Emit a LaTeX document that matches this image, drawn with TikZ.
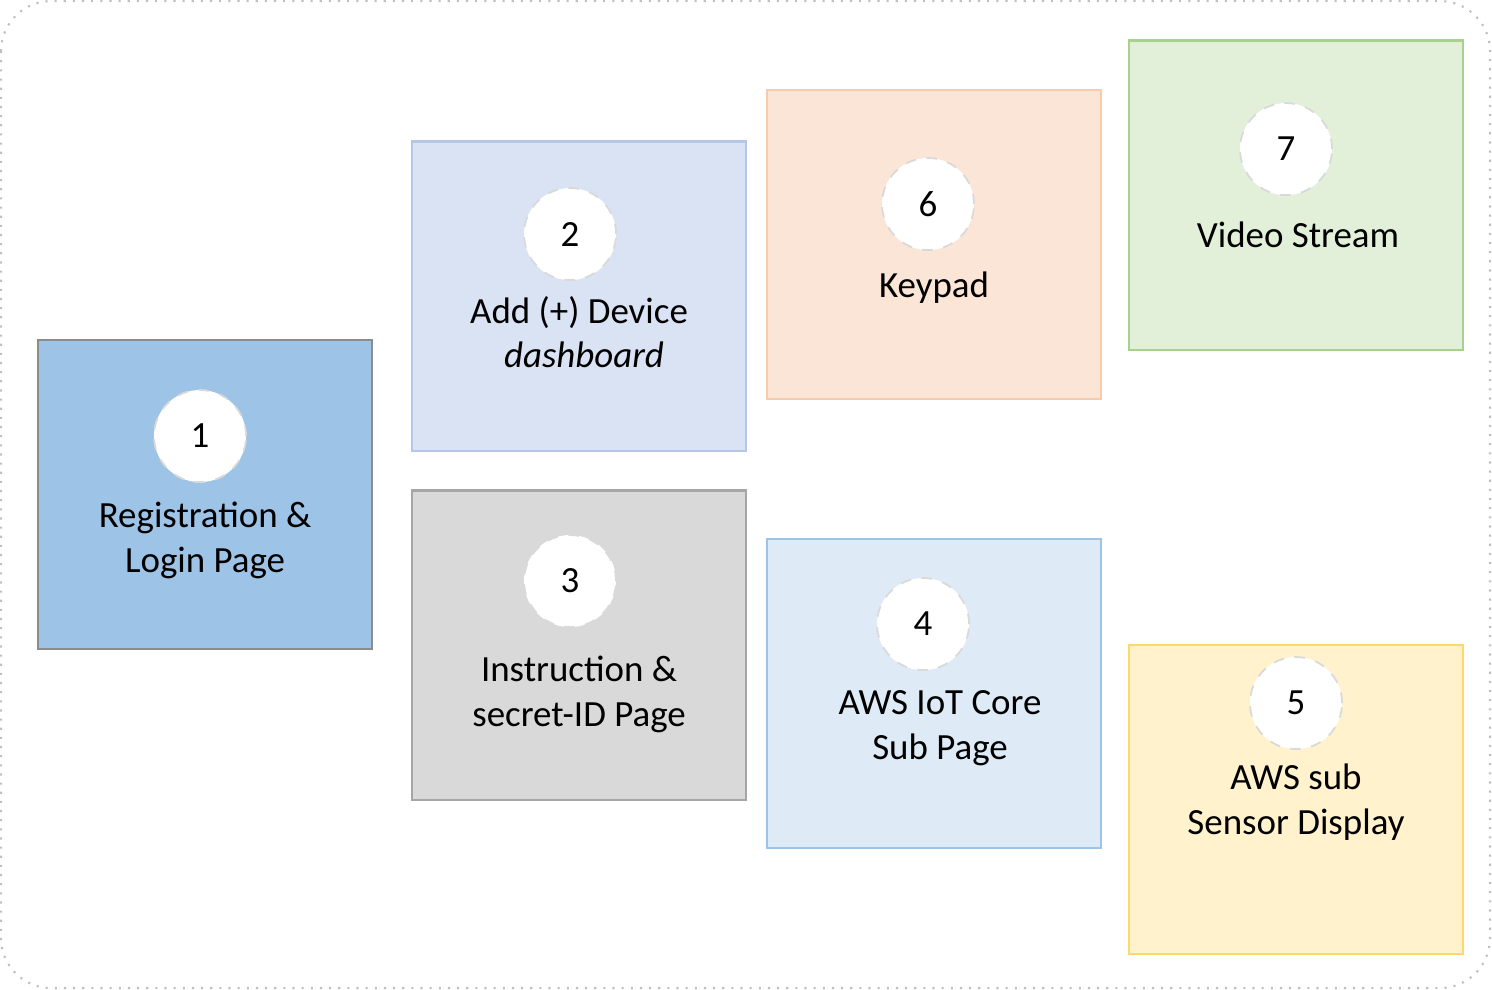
\documentclass[tikz,border=0pt]{standalone}
\usepackage{fontspec}
\setmainfont{Carlito}
\usepackage{tikz}
\usetikzlibrary{positioning}
\usepackage{xcolor}
\definecolor{loginBlue}{HTML}{9DC3E6}
\definecolor{loginEdge}{HTML}{8C8C8C}
\definecolor{dashBlue}{HTML}{DAE3F3}
\definecolor{dashEdge}{HTML}{B4C7E7}
\definecolor{instrGray}{HTML}{D9D9D9}
\definecolor{instrEdge}{HTML}{A6A6A6}
\definecolor{iotBlue}{HTML}{DEEBF7}
\definecolor{iotEdge}{HTML}{9DC3E6}
\definecolor{sensorYellow}{HTML}{FFF2CC}
\definecolor{sensorEdge}{HTML}{FFD966}
\definecolor{keypadOrange}{HTML}{FBE5D6}
\definecolor{keypadEdge}{HTML}{F8CBAD}
\definecolor{videoGreen}{HTML}{E2F0D9}
\definecolor{videoEdge}{HTML}{A9D18E}
\definecolor{ringGray}{HTML}{D9D9D9}
\definecolor{frameGray}{HTML}{BFBFBF}

\begin{document}
\begin{tikzpicture}[x=0.01cm, y=-0.01cm,
    font=\fontsize{10.5}{12.75}\selectfont,
    page/.style={rectangle, line width=0.6pt, minimum width=3.34cm,
                 minimum height=3.09cm, inner sep=0pt},
    stepno/.style={circle, fill=white, draw=ringGray, dashed,
                   line width=0.5pt, minimum size=0.92cm, inner sep=0pt},
    caption/.style={align=center, inner sep=0pt}]
    % outer frame
    \draw[frameGray, dotted, line width=0.6pt, rounded corners=0.5cm]
      (1,1) rectangle (1490,988);
    \useasboundingbox (0,0) rectangle (1492,989);

    % pages
    \node[page, fill=loginBlue, draw=loginEdge] (login) at (205,494.5) {};
    \node[page, fill=dashBlue, draw=dashEdge] (dash) at (579,296) {};
    \node[page, fill=instrGray, draw=instrEdge] (instr) at (579,645) {};
    \node[page, fill=iotBlue, draw=iotEdge] (iot) at (934,693.5) {};
    \node[page, fill=sensorYellow, draw=sensorEdge] (sensor) at (1296,799.5) {};
    \node[page, fill=keypadOrange, draw=keypadEdge] (keypad) at (934,244.5) {};
    \node[page, fill=videoGreen, draw=videoEdge] (video) at (1296,195) {};

    % step numbers
    \node[stepno] (n1) at (200,436) {1};
    \node[stepno] (n2) at (570,234) {2};
    \node[stepno] (n3) at (570,581) {3};
    \node[stepno] (n4) at (923,624) {4};
    \node[stepno] (n5) at (1296,703) {5};
    \node[stepno] (n6) at (928,204) {6};
    \node[stepno] (n7) at (1286,149) {7};

    % captions
    \node[caption] (t1) at (205,540) {Registration \&\\Login Page};
    \node[caption] (t2) at (579,332) {Add (+) Device\\\hspace*{0.1cm}\textit{dashboard}};
    \node[caption] (t3) at (579,694) {Instruction \&\\secret-ID Page};
    \node[caption] (t4) at (940,728) {AWS IoT Core\\Sub Page};
    \node[caption] (t5) at (1296,802) {AWS sub\\Sensor Display};
    \node[caption] (t6) at (934,288) {Keypad};
    \node[caption] (t7) at (1298,235) {Video Stream};
\end{tikzpicture}
\end{document}
